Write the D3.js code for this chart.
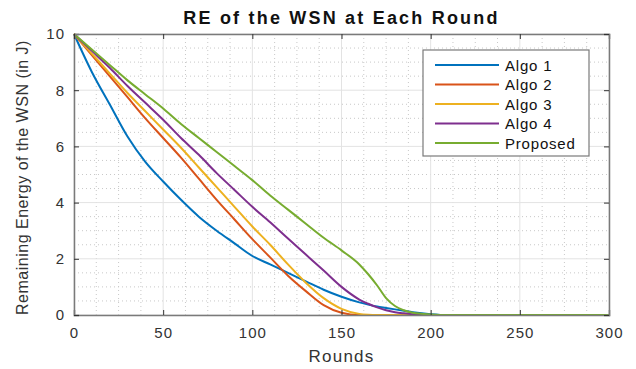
<!DOCTYPE html>
<html>
<head>
<meta charset="utf-8">
<script src="https://cdn.jsdelivr.net/npm/d3@7"></script>
<style>
  body { margin: 0; background: #fff; }
  svg { font-family: "Liberation Sans", Arial, sans-serif; }
</style>
</head>
<body>
<svg id="chart" width="636" height="369"></svg>
<script>
// data
const rounds = [0, 10, 20, 30, 40, 50, 60, 70, 80, 90, 100, 110, 120, 130, 140, 150, 160, 165, 170, 175, 180, 185, 190, 200, 210, 300];
const algo1 = [10, 8.65, 7.5, 6.35, 5.45, 4.75, 4.1, 3.5, 3.0, 2.55, 2.1, 1.8, 1.5, 1.2, 0.9, 0.65, 0.45, 0.37, 0.3, 0.25, 0.2, 0.15, 0.1, 0.03, 0, 0];
const algo2 = [10, 9.25, 8.5, 7.75, 7.0, 6.3, 5.6, 4.85, 4.1, 3.4, 2.7, 2.05, 1.4, 0.85, 0.35, 0.08, 0, 0, 0, 0, 0, 0, 0, 0, 0, 0];
const algo3 = [10, 9.3, 8.6, 7.9, 7.25, 6.6, 5.95, 5.25, 4.55, 3.85, 3.15, 2.5, 1.8, 1.15, 0.6, 0.22, 0.04, 0.01, 0, 0, 0, 0, 0, 0, 0, 0];
const algo4 = [10, 9.4, 8.8, 8.15, 7.55, 6.95, 6.3, 5.7, 5.05, 4.45, 3.85, 3.3, 2.72, 2.15, 1.58, 1.0, 0.55, 0.4, 0.27, 0.17, 0.1, 0.06, 0.03, 0, 0, 0];
const proposed = [10, 9.45, 8.9, 8.35, 7.85, 7.35, 6.8, 6.3, 5.8, 5.3, 4.8, 4.25, 3.75, 3.25, 2.75, 2.3, 1.8, 1.45, 1.05, 0.6, 0.32, 0.17, 0.08, 0.02, 0, 0];
const seriesNames = ["Algo 1", "Algo 2", "Algo 3", "Algo 4", "Proposed"];
const seriesColors = ["#0072BD", "#D95319", "#EDB120", "#7E2F8E", "#77AC30"];
const xTicks = [0, 50, 100, 150, 200, 250, 300];
const yTicks = [0, 2, 4, 6, 8, 10];

const series = [algo1, algo2, algo3, algo4, proposed];

const svg = d3.select("#chart");
const margin = {left: 74, right: 27, top: 34, bottom: 54};
const width = 636 - margin.left - margin.right,
    height = 369 - margin.top - margin.bottom;

const x = d3.scaleLinear().domain([0, 300]).range([0, width]);
const y = d3.scaleLinear().domain([0, 10]).range([height, 0]);

const g = svg.append("g").attr("transform", `translate(${margin.left},${margin.top})`);

// minor grid (dotted)
const xMinor = d3.range(0, 300.1, 12.5).filter(v => v % 50 !== 0);
const yMinor = d3.range(0, 10.01, 0.5).filter(v => v % 2 !== 0);
g.append("g").selectAll("line").data(xMinor).enter().append("line")
    .attr("x1", d => x(d)).attr("x2", d => x(d))
    .attr("y1", 0).attr("y2", height)
    .attr("stroke", "#c8c8c8").attr("stroke-width", 1).attr("stroke-dasharray", "1,3");
g.append("g").selectAll("line").data(yMinor).enter().append("line")
    .attr("x1", 0).attr("x2", width)
    .attr("y1", d => y(d)).attr("y2", d => y(d))
    .attr("stroke", "#c8c8c8").attr("stroke-width", 1).attr("stroke-dasharray", "1,3");

// major grid
g.append("g").selectAll("line").data(xTicks).enter().append("line")
    .attr("x1", d => x(d)).attr("x2", d => x(d))
    .attr("y1", 0).attr("y2", height)
    .attr("stroke", "#e3e3e3").attr("stroke-width", 1);
g.append("g").selectAll("line").data(yTicks).enter().append("line")
    .attr("x1", 0).attr("x2", width)
    .attr("y1", d => y(d)).attr("y2", d => y(d))
    .attr("stroke", "#e3e3e3").attr("stroke-width", 1);

// lines
const line = d3.line()
    .x((d, i) => x(rounds[i]))
    .y(d => y(d))
    .curve(d3.curveMonotoneX);

g.append("g").selectAll("path").data(series).enter().append("path")
    .attr("d", d => line(d))
    .attr("fill", "none")
    .attr("stroke", (d, i) => seriesColors[i])
    .attr("stroke-width", 2);

// axes
g.append("g").attr("transform", `translate(0,${height})`)
    .call(d3.axisBottom(x).tickValues(xTicks).tickSize(-5).tickPadding(12));
g.append("g")
    .call(d3.axisLeft(y).tickValues(yTicks).tickSize(-5).tickPadding(9));
g.append("g").call(d3.axisTop(x).tickValues(xTicks).tickSize(-5).tickFormat(""));
g.append("g").attr("transform", `translate(${width},0)`)
    .call(d3.axisRight(y).tickValues(yTicks).tickSize(-5).tickFormat(""));

g.selectAll(".domain").attr("stroke", "#7a7a7a").attr("stroke-width", 1.5);
g.selectAll(".tick line").attr("stroke", "#333");
g.selectAll(".tick text").attr("fill", "#333")
    .style("font-size", "15px").style("letter-spacing", "1px");

// titles
svg.append("text")
    .attr("x", margin.left + width / 2).attr("y", 24)
    .attr("text-anchor", "middle")
    .style("font-size", "18px").style("font-weight", "bold")
    .style("letter-spacing", "2.2px")
    .attr("fill", "#111")
    .text("RE of the WSN at Each Round");

svg.append("text")
    .attr("x", margin.left + width / 2).attr("y", 362)
    .attr("text-anchor", "middle")
    .style("font-size", "17px").style("letter-spacing", "1.2px")
    .attr("fill", "#333")
    .text("Rounds");

svg.append("text")
    .attr("transform", `translate(28,${margin.top + height / 2 + 3}) rotate(-90)`)
    .attr("text-anchor", "middle")
    .style("font-size", "16px").style("letter-spacing", "0.5px")
    .attr("fill", "#333")
    .text("Remaining Energy of the WSN (in J)");

// legend
const legend = svg.append("g").attr("transform", "translate(423,50)");
legend.append("rect")
    .attr("width", 166).attr("height", 106)
    .attr("fill", "#fff").attr("stroke", "#7a7a7a").attr("stroke-width", 1.2);

const item = legend.selectAll(".item").data(seriesNames).enter().append("g")
    .attr("transform", (d, i) => `translate(0,${15 + i * 19.5})`);
item.append("line")
    .attr("x1", 12).attr("x2", 76)
    .attr("stroke", (d, i) => seriesColors[i]).attr("stroke-width", 2);
item.append("text")
    .attr("x", 82).attr("y", 5.5)
    .style("font-size", "15px").style("letter-spacing", "0.8px")
    .attr("fill", "#111")
    .text(d => d);
</script>
</body>
</html>
